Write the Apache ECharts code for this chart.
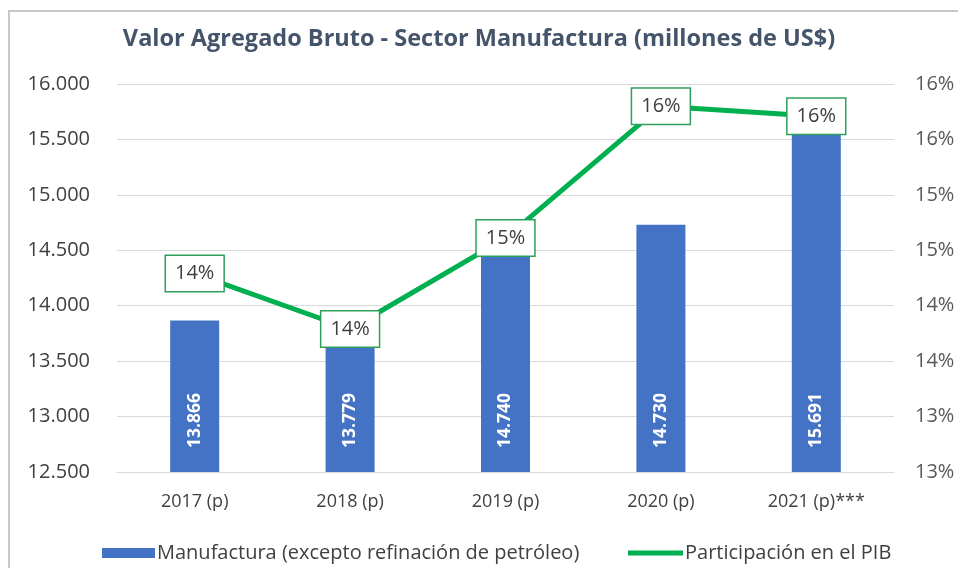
<!DOCTYPE html>
<html>
<head>
<meta charset="utf-8">
<script src="https://cdn.jsdelivr.net/npm/echarts@6/dist/echarts.min.js"></script>
<style>
  html, body { margin: 0; padding: 0; background: #ffffff; }
  #chart { width: 958px; height: 568px; }
</style>
</head>
<body>
<div id="chart"></div>
<script>
// datos
const years = ["2017 (p)", "2018 (p)", "2019 (p)", "2020 (p)", "2021 (p)***"];
const manufactura = [13866, 13779, 14740, 14730, 15691];
const participacion = [14.29, 13.79, 14.61, 15.8, 15.71];

const barName = "Manufactura (excepto refinación de petróleo)";
const lineName = "Participación en el PIB";

const fontFamily = "'Open Sans', 'Noto Sans', sans-serif";

function miles(v) {
  return String(Math.round(v)).replace(/\B(?=(\d{3})+(?!\d))/g, ".");
}

let myChart = echarts.init(document.getElementById("chart"));
let option = {
  backgroundColor: "#ffffff",
  textStyle: { fontFamily: fontFamily },
  title: {
    text: "Valor Agregado Bruto - Sector Manufactura (millones de US$)",
    left: "center",
    top: 22,
    textStyle: {
      color: "#44546a",
      fontSize: 23.5,
      fontWeight: "bold",
      fontFamily: fontFamily,
    },
  },
  // marco del gráfico
  graphic: [
    {
      type: "rect",
      shape: { x: 9, y: 11, width: 1000, height: 600 },
      style: { fill: "none", stroke: "#c8c8c8", lineWidth: 2 },
      silent: true,
    },
  ],
  // dos leyendas para tener iconos de distinto tamaño
  legend: [
    {
      left: 97,
      top: 538,
      itemWidth: 53,
      itemHeight: 10,
      textStyle: { color: "#404040", fontSize: 20, fontFamily: fontFamily, padding: [0, 0, 0, -3] },
      data: [{ name: barName, icon: "rect" }],
    },
    {
      left: 623,
      top: 538,
      itemWidth: 55,
      itemHeight: 5,
      textStyle: { color: "#404040", fontSize: 20, fontFamily: fontFamily, padding: [0, 0, 0, -3] },
      data: [{ name: lineName, icon: "rect" }],
    },
  ],
  grid: {
    left: 117,
    right: 64,
    top: 84,
    bottom: 96,
  },
  xAxis: {
    type: "category",
    data: years,
    axisLine: { show: true, lineStyle: { color: "#d9d9d9", width: 1 } },
    axisTick: { show: false },
    axisLabel: { color: "#404040", fontSize: 18, margin: 21 },
  },
  yAxis: [
    {
      type: "value",
      min: 12500,
      max: 16000,
      interval: 500,
      axisLine: { show: false },
      axisTick: { show: false },
      splitLine: { lineStyle: { color: "#d9d9d9", width: 1 } },
      axisLabel: {
        color: "#404040",
        fontSize: 20,
        margin: 27,
        formatter: miles,
      },
    },
    {
      type: "value",
      min: 12.5,
      max: 16,
      interval: 0.5,
      axisLine: { show: false },
      axisTick: { show: false },
      splitLine: { show: false },
      axisLabel: {
        color: "#595959",
        fontSize: 20,
        margin: 21,
        formatter: (v) => Math.round(v) + "%",
      },
    },
  ],
  series: [
    {
      name: barName,
      type: "bar",
      yAxisIndex: 0,
      data: manufactura,
      barWidth: 49,
      itemStyle: { color: "#4472c4" },
      label: {
        show: true,
        position: "insideBottom",
        distance: 24,
        rotate: 90,
        align: "left",
        verticalAlign: "middle",
        color: "#ffffff",
        fontSize: 17.5,
        fontWeight: "bold",
        formatter: (p) => miles(p.value),
      },
    },
    {
      name: lineName,
      type: "line",
      yAxisIndex: 1,
      data: participacion,
      symbol: "circle",
      symbolSize: 1,
      showSymbol: true,
      z: 5,
      lineStyle: { color: "#00b050", width: 5 },
      itemStyle: { color: "#00b050" },
      label: {
        show: true,
        position: "inside",
        color: "#404040",
        fontSize: 20,
        lineHeight: 22,
        backgroundColor: "#ffffff",
        borderColor: "#2ca05a",
        borderWidth: 1.5,
        padding: [7, 9, 6, 9],
        formatter: (p) => Math.round(p.value) + "%",
      },
    },
  ],
};
myChart.setOption(option, true);

window.addEventListener("resize", () => {
  myChart.resize();
});
</script>
</body>
</html>
